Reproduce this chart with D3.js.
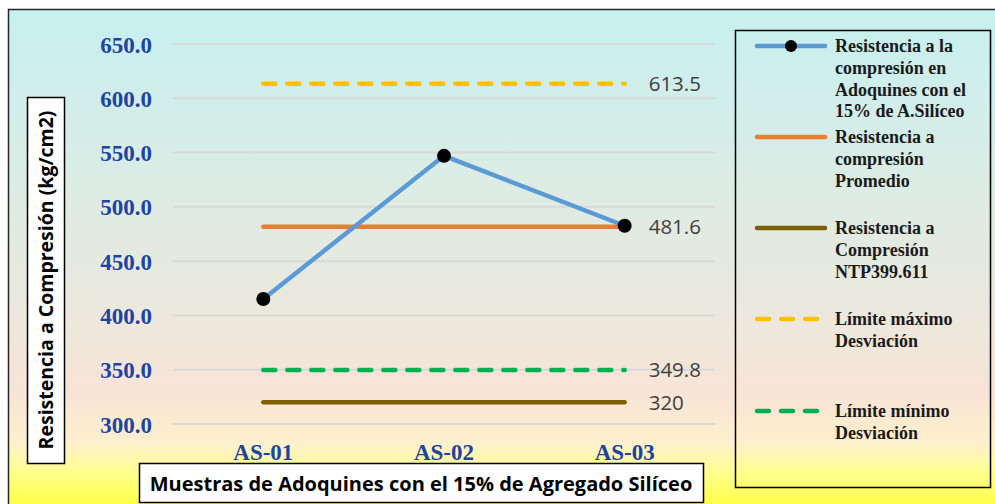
<!DOCTYPE html>
<html>
<head>
<meta charset="utf-8">
<script src="https://cdn.jsdelivr.net/npm/d3@7"></script>
<style>
  html, body { margin: 0; padding: 0; background: #ffffff; }
  svg { display: block; }
</style>
</head>
<body>
<svg id="chart" width="995" height="504"></svg>
<script>
// Samples and measured compressive strength (kg/cm2)
const samples = ["AS-01", "AS-02", "AS-03"];
const strength = [415.2, 547.0, 482.6];

// Reference levels drawn as horizontal lines across the samples
const averageStrength = 481.6;
const ntpStrength = 320;
const maxDeviation = 613.5;
const minDeviation = 349.8;

// Y axis ticks
const yTicks = [300, 350, 400, 450, 500, 550, 600, 650];

// Legend entries
const legendLabels = [
  ["Resistencia a la", "compresión en", "Adoquines con el", "15% de A.Silíceo"],
  ["Resistencia a", "compresión", "Promedio"],
  ["Resistencia a", "Compresión", "NTP399.611"],
  ["Límite máximo", "Desviación"],
  ["Límite mínimo", "Desviación"]
];

const yTitle = "Resistencia a Compresión (kg/cm2)";
const xTitle = "Muestras de Adoquines con el 15% de Agregado Silíceo";

const colors = {
  series: "#5b9bd5",
  average: "#ed7d31",
  ntp: "#7f6000",
  max: "#ffc000",
  min: "#00b050"
};

const svg = d3.select("#chart");

// Background gradient of the chart area
const defs = svg.append("defs");
const grad = defs.append("linearGradient")
  .attr("id", "bg").attr("x1", 0).attr("y1", 0).attr("x2", 0).attr("y2", 1);
[[0, "#c6f0f0"], [0.35, "#dcece4"], [0.6, "#ece8dd"], [0.76, "#f8e4d7"],
 [0.86, "#fdf0cc"], [0.92, "#ffff8a"], [1, "#ffff33"]]
  .forEach(([o, c]) => grad.append("stop").attr("offset", o).attr("stop-color", c));

svg.append("rect")
  .attr("x", 8.5).attr("y", 9.5).attr("width", 1000).attr("height", 505)
  .attr("fill", "url(#bg)").attr("stroke", "#262626").attr("stroke-width", 1.5);

// Scales
const plot = { left: 173, right: 715, top: 44, bottom: 424 };
const x = d3.scaleBand().domain(samples).range([plot.left, plot.right]);
const y = d3.scaleLinear().domain([300, 650]).range([plot.bottom, plot.top]);
const cx = d => x(d) + x.bandwidth() / 2;

// Gridlines
svg.append("g")
  .selectAll("line").data(yTicks).join("line")
  .attr("x1", plot.left).attr("x2", plot.right)
  .attr("y1", d => y(d)).attr("y2", d => y(d))
  .attr("stroke", "#d9d9d9").attr("stroke-width", 2);

// Y axis labels
const yAxis = d3.axisLeft(y).tickValues(yTicks).tickFormat(d3.format(".1f")).tickSize(0).tickPadding(0);
const yg = svg.append("g").attr("transform", `translate(152,0)`).call(yAxis);
yg.select(".domain").remove();
yg.selectAll("text")
  .attr("font-family", "'Liberation Serif', 'Times New Roman', serif")
  .attr("font-weight", "bold").attr("font-size", 23).attr("fill", "#1d43a3")
  .attr("dy", "0.35em");

// X axis labels
const xAxis = d3.axisBottom(x).tickSize(0).tickPadding(0);
const xg = svg.append("g").attr("transform", `translate(0,${plot.bottom})`).call(xAxis);
xg.select(".domain").remove();
xg.selectAll("text")
  .attr("font-family", "'Liberation Serif', 'Times New Roman', serif")
  .attr("font-weight", "bold").attr("font-size", 23).attr("fill", "#1d43a3")
  .attr("y", 36).attr("dy", 0);

// Horizontal reference lines
const x0 = cx(samples[0]), x1 = cx(samples[samples.length - 1]);
const refLines = [
  { v: ntpStrength, color: colors.ntp, dash: null, label: "320" },
  { v: minDeviation, color: colors.min, dash: "12,12", label: "349.8" },
  { v: maxDeviation, color: colors.max, dash: "12,12", label: "613.5" },
  { v: averageStrength, color: colors.average, dash: null, label: "481.6" }
];
svg.append("g").selectAll("line").data(refLines).join("line")
  .attr("x1", x0).attr("x2", x1)
  .attr("y1", d => y(d.v)).attr("y2", d => y(d.v))
  .attr("stroke", d => d.color).attr("stroke-width", 4.5)
  .attr("stroke-linecap", "round")
  .attr("stroke-dasharray", d => d.dash);

// Measured series
const line = d3.line().x((d, i) => cx(samples[i])).y(d => y(d));
svg.append("path").datum(strength)
  .attr("d", line).attr("fill", "none")
  .attr("stroke", colors.series).attr("stroke-width", 4.5).attr("stroke-linecap", "round");
svg.append("g").selectAll("circle").data(strength).join("circle")
  .attr("cx", (d, i) => cx(samples[i])).attr("cy", d => y(d))
  .attr("r", 7).attr("fill", "#000");

// Value labels for the reference lines
svg.append("g").selectAll("text").data(refLines).join("text")
  .attr("x", x1 + 24).attr("y", d => y(d.v)).attr("dy", "0.36em")
  .attr("font-family", "'Open Sans', sans-serif").attr("font-size", 20.5)
  .attr("fill", "#404040").text(d => d.label);

// Axis titles in white boxes
svg.append("rect").attr("x", 27.5).attr("y", 97.5).attr("width", 37).attr("height", 366)
  .attr("fill", "#fff").attr("stroke", "#000").attr("stroke-width", 1.5);
svg.append("text")
  .attr("transform", "translate(53,280) rotate(-90)")
  .attr("text-anchor", "middle")
  .attr("font-family", "'Open Sans', sans-serif").attr("font-weight", "bold").attr("font-size", 19.5)
  .attr("fill", "#000").text(yTitle);

svg.append("rect").attr("x", 139.5).attr("y", 463.5).attr("width", 564).attr("height", 39)
  .attr("fill", "#fff").attr("stroke", "#000").attr("stroke-width", 1.5);
svg.append("text")
  .attr("x", 421).attr("y", 491).attr("text-anchor", "middle")
  .attr("font-family", "'Open Sans', sans-serif").attr("font-weight", "bold").attr("font-size", 20)
  .attr("fill", "#000").text(xTitle);

// Legend
svg.append("rect").attr("x", 735.5).attr("y", 30.5).attr("width", 255).attr("height", 457)
  .attr("fill", "none").attr("stroke", "#000").attr("stroke-width", 1.5);

const legendItems = [
  { color: colors.series, dash: null, marker: true, y: 46 },
  { color: colors.average, dash: null, marker: false, y: 137 },
  { color: colors.ntp, dash: null, marker: false, y: 228 },
  { color: colors.max, dash: "12,12", marker: false, y: 319 },
  { color: colors.min, dash: "12,12", marker: false, y: 411 }
];
const lg = svg.append("g");
legendItems.forEach((it, i) => {
  lg.append("line").attr("x1", 757).attr("x2", 825).attr("y1", it.y).attr("y2", it.y)
    .attr("stroke", it.color).attr("stroke-width", 4.5).attr("stroke-linecap", "round")
    .attr("stroke-dasharray", it.dash);
  if (it.marker) lg.append("circle").attr("cx", 791).attr("cy", it.y).attr("r", 6).attr("fill", "#000");
  const t = lg.append("text")
    .attr("font-family", "'Liberation Serif', 'Times New Roman', serif")
    .attr("font-weight", "bold").attr("font-size", 18).attr("fill", "#1a1a1a");
  legendLabels[i].forEach((s, j) => {
    t.append("tspan").attr("x", 835).attr("y", it.y + j * 21.7).attr("dy", "0.35em").text(s);
  });
});
</script>
</body>
</html>
